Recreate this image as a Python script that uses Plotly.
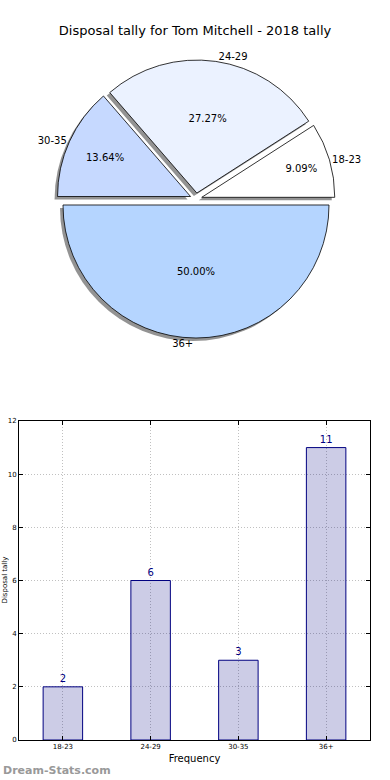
import plotly.graph_objects as go

categories = ["18-23", "24-29", "30-35", "36+"]
counts = [2, 6, 3, 11]
pie_colors = ["#ffffff", "#ebf2ff", "#c6d9ff", "#b5d5ff"]
pulls = [0.045, 0.045, 0.045, 0.045]
y_ticks = [0, 2, 4, 6, 8, 10, 12]

W, H = 390, 780
ml, mr, mt, mb = 19, 20, 0, 40
pw, ph = W - ml - mr, H - mt - mb

bar_top_px = 421
bar_dom_top = (H - mb - bar_top_px) / ph

pie_cy = (H - mb - 199) / ph
pie_half = 139 / ph
dx, dy = 3 / pw, 3 / ph
pie_dom = dict(x=[dx, 1], y=[pie_cy - pie_half, pie_cy + pie_half])
shadow_dom = dict(x=[0, 1 - dx], y=[pie_cy - pie_half - dy, pie_cy + pie_half - dy])

# first slice starts at 3 o'clock, counter-clockwise
start_rot = 90 - 360 * counts[0] / sum(counts)

fig = go.Figure()

# shadow
fig.add_trace(go.Pie(
    labels=categories, values=counts, sort=False, direction="counterclockwise",
    rotation=start_rot, pull=pulls, domain=shadow_dom,
    marker=dict(colors=["rgba(120,120,120,0.8)"] * 4, line=dict(width=0)),
    textinfo="none", hoverinfo="skip", showlegend=False,
))
# main pie with percentages inside
fig.add_trace(go.Pie(
    labels=categories, values=counts, sort=False, direction="counterclockwise",
    rotation=start_rot, pull=pulls, domain=pie_dom,
    marker=dict(colors=pie_colors, line=dict(color="#000000", width=0.8)),
    texttemplate="%{percent:.2%}", textposition="inside",
    insidetextorientation="horizontal",
    textfont=dict(family="DejaVu Sans", size=10, color="#000000"),
    showlegend=False,
))
# outside labels
fig.add_trace(go.Pie(
    labels=categories, values=counts, sort=False, direction="counterclockwise",
    rotation=start_rot, pull=pulls, domain=pie_dom,
    marker=dict(colors=["rgba(0,0,0,0)"] * 4, line=dict(width=0)),
    texttemplate="%{label}", textposition="outside",
    textfont=dict(family="DejaVu Sans", size=10, color="#000000"),
    hoverinfo="skip", showlegend=False,
))

fig.add_trace(go.Bar(
    x=categories, y=counts, width=0.45,
    marker=dict(color="rgba(0,0,128,0.2)", line=dict(color="#000080", width=1)),
    text=counts, textposition="outside", cliponaxis=False,
    textfont=dict(family="DejaVu Sans", size=10, color="#000080"),
    showlegend=False,
))

fig.update_layout(
    width=W, height=H, autosize=False,
    margin=dict(l=ml, r=mr, t=mt, b=mb, autoexpand=False),
    paper_bgcolor="white", plot_bgcolor="white",
    font=dict(family="DejaVu Sans", color="#000000"),
    title=dict(text="Disposal tally for Tom Mitchell - 2018 tally",
               x=0.5, xanchor="center", y=1 - 30 / H, yanchor="middle",
               font=dict(size=13, family="DejaVu Sans", color="#000000")),
    xaxis=dict(domain=[0, 1], range=[-0.5, 3.5], showgrid=True, automargin=False,
               gridcolor="#c0c0c0", griddash="1px,2px", gridwidth=1,
               showline=True, linecolor="#000000", linewidth=1, mirror="ticks",
               ticks="inside", ticklen=4, tickcolor="#000000",
               tickfont=dict(size=7), zeroline=False,
               title=dict(text="Frequency", font=dict(size=10), standoff=4)),
    yaxis=dict(domain=[0, bar_dom_top], range=[0, 12], tickvals=y_ticks, automargin=False,
               showgrid=True, gridcolor="#c0c0c0", griddash="1px,2px", gridwidth=1,
               showline=True, linecolor="#000000", linewidth=1, mirror="ticks",
               ticks="inside", ticklen=4, tickcolor="#000000",
               tickfont=dict(size=7), zeroline=False),
    annotations=[
        dict(text="Disposal tally", xref="paper", yref="paper",
             x=-(ml - 4) / pw, y=bar_dom_top / 2, xanchor="center", yanchor="middle",
             textangle=-90, showarrow=False, font=dict(size=7, color="#000000")),
        dict(text="<b>Dream-Stats.com</b>", xref="paper", yref="paper",
             x=-(ml - 1) / pw, y=-(770 - (H - mb)) / ph, xanchor="left", yanchor="middle",
             showarrow=False, font=dict(size=11, color="#999999")),
    ],
)

fig.write_html("out.html", config={"displayModeBar": False},
               post_script="document.body.style.margin='0';document.body.style.overflow='hidden';")
